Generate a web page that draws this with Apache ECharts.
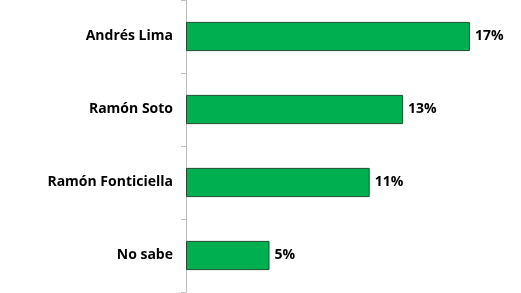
<!DOCTYPE html>
<html><head><meta charset="utf-8">
<script src="https://cdn.jsdelivr.net/npm/echarts@6/dist/echarts.min.js"></script>
<style>html,body{margin:0;padding:0;background:#fff}#c{width:521px;height:293px}</style>
</head><body><div id="c"></div>
<script>
const categories = ['Andrés Lima', 'Ramón Soto', 'Ramón Fonticiella', 'No sabe'];
const values = [17, 13, 11, 5];
const chart = echarts.init(document.getElementById('c'), null, {renderer: 'canvas'});
chart.setOption({
  animation: false,
  grid: {left: 186, right: 1, top: 0, bottom: 1, containLabel: false},
  xAxis: {type: 'value', min: 0, max: 20, show: false},
  yAxis: {
    type: 'category', data: categories, inverse: true,
    axisLine: {show: true, lineStyle: {color: '#bfbfbf', width: 1}},
    axisTick: {show: true, length: 5, lineStyle: {color: '#bfbfbf'}},
    axisLabel: {color: '#000', fontWeight: 'bold', fontSize: 14, fontFamily: 'Open Sans', margin: 13},
    splitLine: {show: false}
  },
  series: [{
    type: 'bar', data: values, barCategoryGap: '60%',
    itemStyle: {color: '#00B050', borderColor: '#1f4e33', borderWidth: 1},
    label: {show: true, position: 'right', distance: 5, formatter: '{c}%', color: '#000', fontWeight: 'bold', fontSize: 14, fontFamily: 'Open Sans'}
  }]
});
</script></body></html>
